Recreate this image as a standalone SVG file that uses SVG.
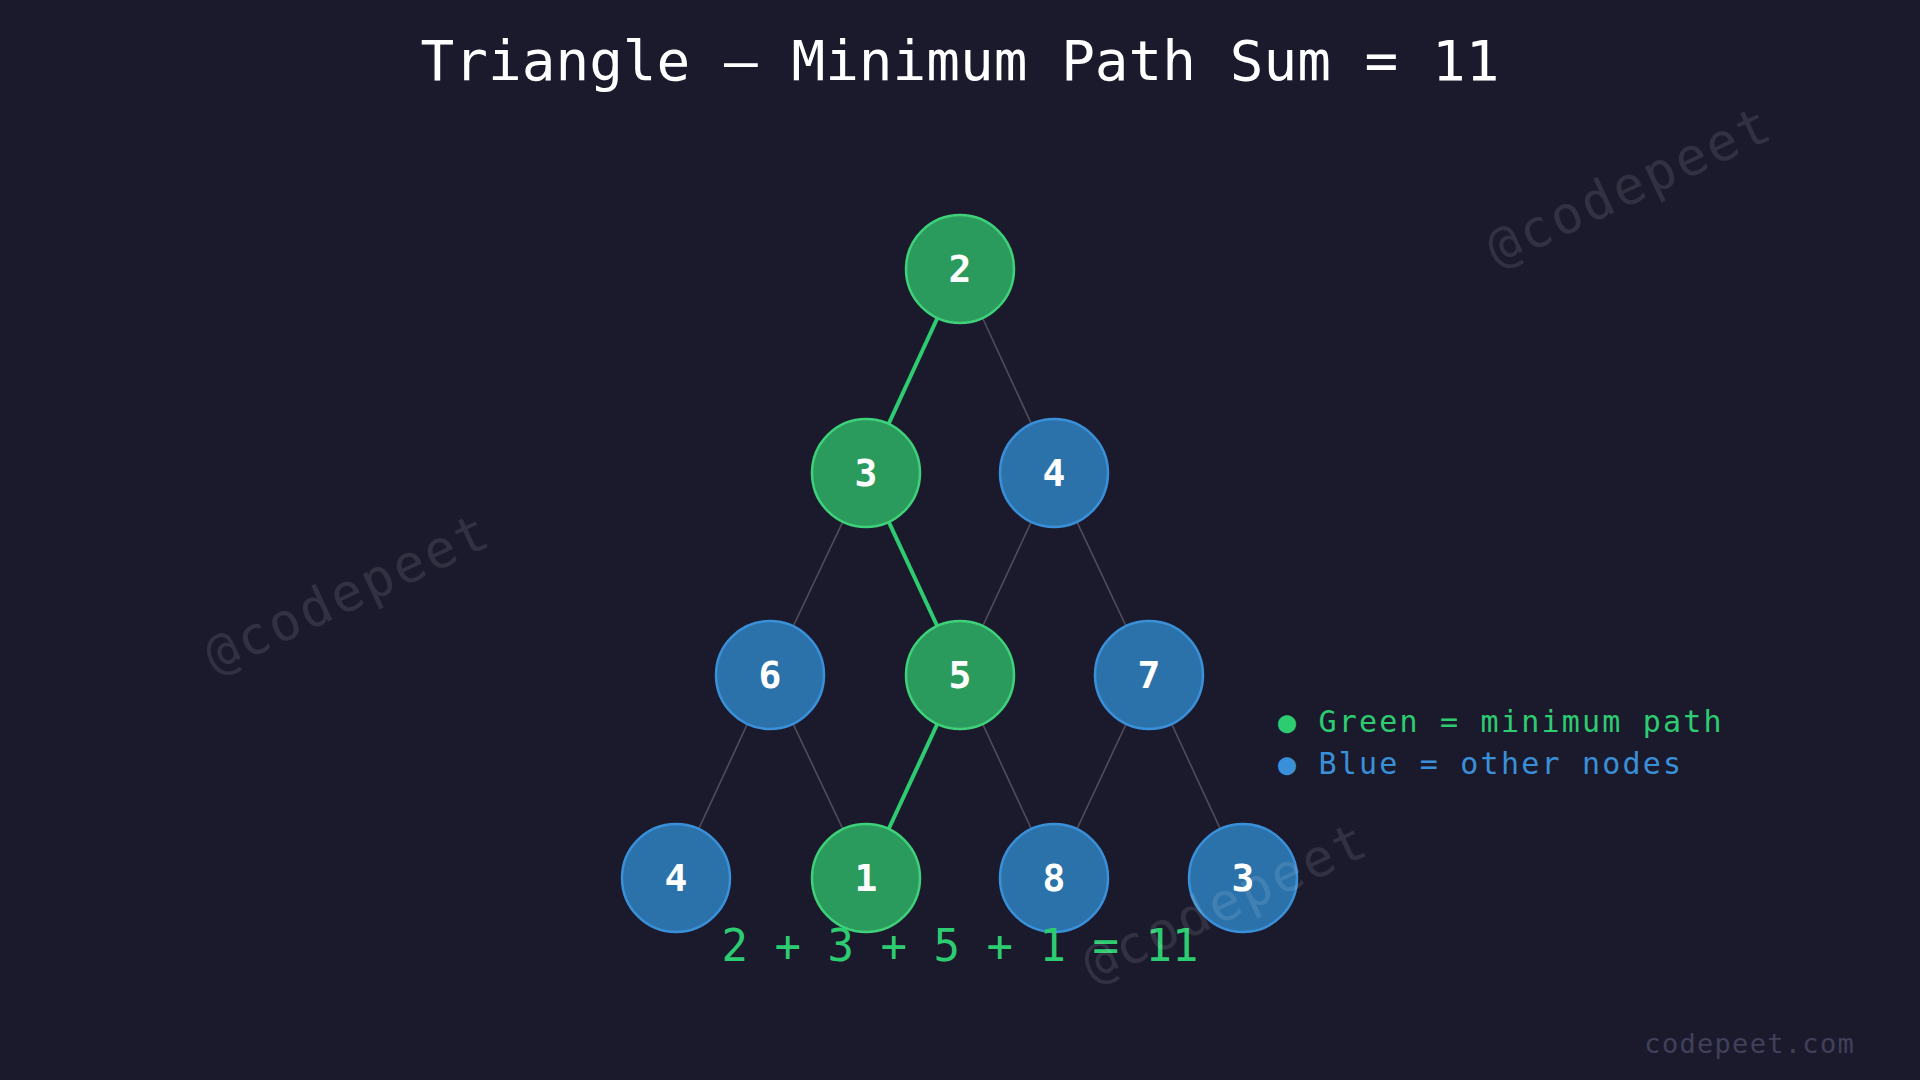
<svg xmlns="http://www.w3.org/2000/svg" width="1920" height="1080" viewBox="0 0 1920 1080">
<style>
.g circle{fill:#2a9b5c;stroke:#3fd07a;stroke-width:2.5}
.b circle{fill:#2c72aa;stroke:#3a90d8;stroke-width:2.5}
.n text{font-family:"DejaVu Sans Mono",monospace;font-weight:bold;font-size:38px;fill:#fff;text-anchor:middle;dominant-baseline:central}
.e{stroke:#4e4d5a;stroke-width:1.6}
.p{stroke:#2ecc71;stroke-width:4}
.wm{font-family:"DejaVu Sans Mono",monospace;font-size:52px;fill:#ffffff;fill-opacity:0.1;text-anchor:middle}
</style>
<rect width="1920" height="1080" fill="#1b1a2d"/>
<text x="960" y="80" font-family="DejaVu Sans Mono,monospace" font-size="56" fill="#fff" text-anchor="middle">Triangle — Minimum Path Sum = 11</text>
<g id="connectors">
<line class="p" x1="960" y1="269" x2="866" y2="473"/>
<line class="e" x1="960" y1="269" x2="1054" y2="473"/>
<line class="e" x1="866" y1="473" x2="770" y2="675"/>
<line class="p" x1="866" y1="473" x2="960" y2="675"/>
<line class="e" x1="1054" y1="473" x2="960" y2="675"/>
<line class="e" x1="1054" y1="473" x2="1149" y2="675"/>
<line class="e" x1="770" y1="675" x2="676" y2="878"/>
<line class="e" x1="770" y1="675" x2="866" y2="878"/>
<line class="p" x1="960" y1="675" x2="866" y2="878"/>
<line class="e" x1="960" y1="675" x2="1054" y2="878"/>
<line class="e" x1="1149" y1="675" x2="1054" y2="878"/>
<line class="e" x1="1149" y1="675" x2="1243" y2="878"/>
</g>
<g id="n0" class="n g"><circle cx="960" cy="269" r="54"/><text x="960" y="269">2</text></g>
<g id="n1" class="n g"><circle cx="866" cy="473" r="54"/><text x="866" y="473">3</text></g>
<g id="n2" class="n b"><circle cx="1054" cy="473" r="54"/><text x="1054" y="473">4</text></g>
<g id="n3" class="n b"><circle cx="770" cy="675" r="54"/><text x="770" y="675">6</text></g>
<g id="n4" class="n g"><circle cx="960" cy="675" r="54"/><text x="960" y="675">5</text></g>
<g id="n5" class="n b"><circle cx="1149" cy="675" r="54"/><text x="1149" y="675">7</text></g>
<g id="n6" class="n b"><circle cx="676" cy="878" r="54"/><text x="676" y="878">4</text></g>
<g id="n7" class="n g"><circle cx="866" cy="878" r="54"/><text x="866" y="878">1</text></g>
<g id="n8" class="n b"><circle cx="1054" cy="878" r="54"/><text x="1054" y="878">8</text></g>
<g id="n9" class="n b"><circle cx="1243" cy="878" r="54"/><text x="1243" y="878">3</text></g>
<text x="960" y="961" font-family="DejaVu Sans Mono,monospace" font-size="44" fill="#2ecc71" text-anchor="middle">2 + 3 + 5 + 1 = 11</text>
<g font-family="DejaVu Sans Mono,monospace" font-size="30" letter-spacing="2.2">
<text x="1278" y="732" fill="#2ecc71">● Green = minimum path</text>
<text x="1278" y="774" fill="#3a90d8">● Blue = other nodes</text>
</g>
<text class="wm" transform="translate(355,609) rotate(-25)" letter-spacing="3">@codepeet</text>
<text class="wm" transform="translate(1637,202) rotate(-25)" letter-spacing="3">@codepeet</text>
<text class="wm" transform="translate(1233,918) rotate(-25)" letter-spacing="3">@codepeet</text>
<text x="1855" y="1053" font-family="DejaVu Sans Mono,monospace" font-size="27" letter-spacing="1.3" fill="#41405a" text-anchor="end">codepeet.com</text>
</svg>
